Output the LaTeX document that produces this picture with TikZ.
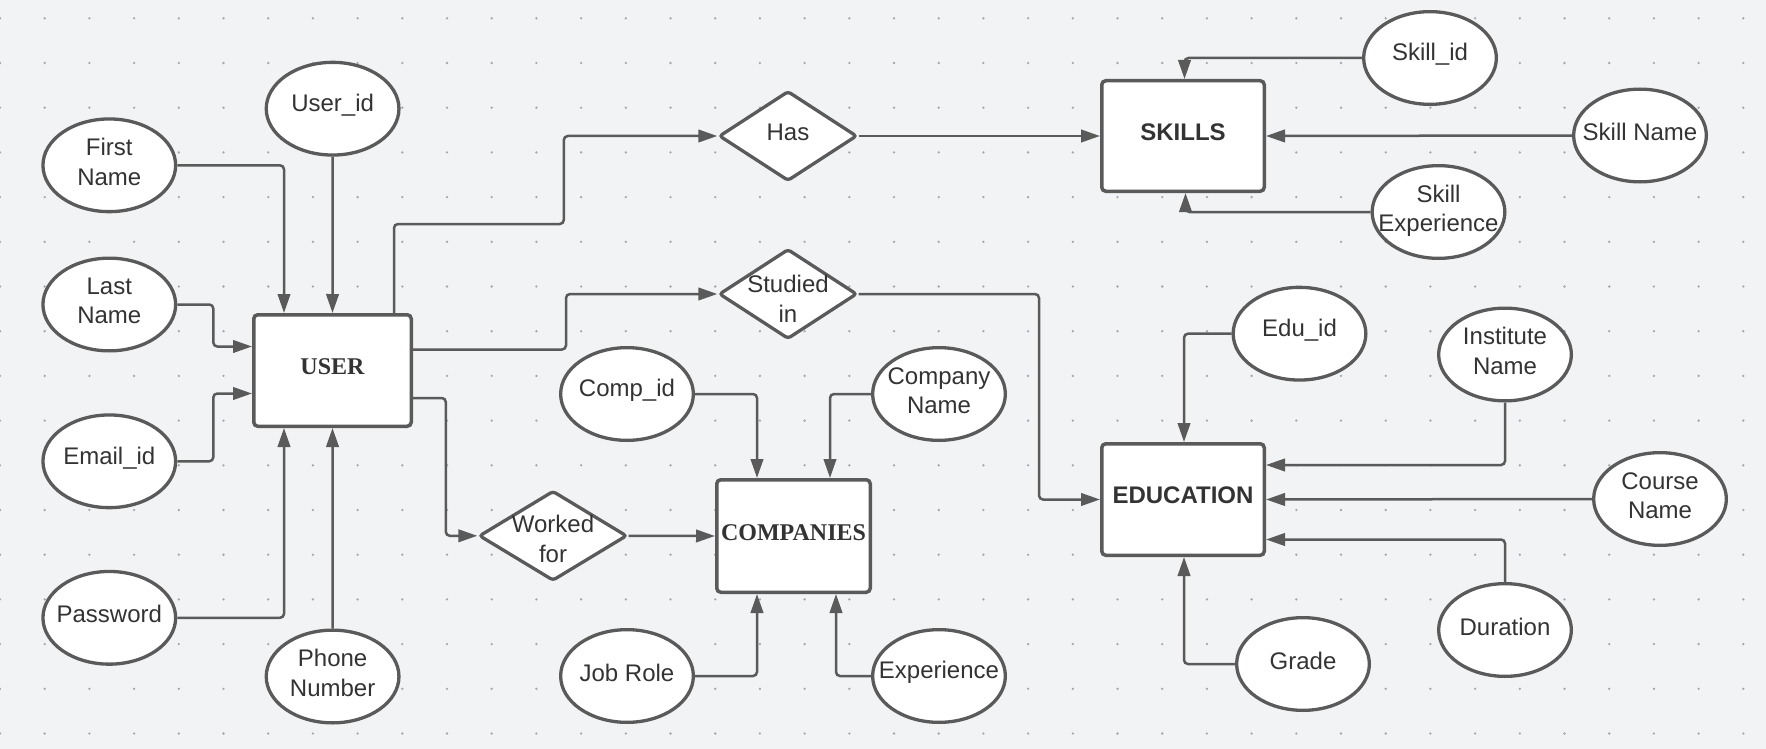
\documentclass[tikz,border=0pt]{standalone}
\usepackage{fontspec}
\setmainfont{Liberation Sans}
\newfontfamily\serfont{Liberation Serif}
\usetikzlibrary{shapes.geometric,arrows.meta}
\definecolor{bg}{HTML}{F2F3F5}
\definecolor{ln}{HTML}{5A5A5A}
\definecolor{tx}{HTML}{333333}
\definecolor{dotc}{HTML}{A4A8AE}
\newcommand\attrnode[4]{\node[attr] (#1) at (#2) {};\node[lbl] (#1-t) at ([yshift=#3]#1.center) {#4};}
\begin{document}
\begin{tikzpicture}[x=1pt,y=-1pt,
  attr/.style={ellipse, draw=ln, line width=3.3pt, fill=white, minimum width=132.7pt, minimum height=92.7pt, inner sep=0pt},
  ent/.style={rectangle, rounded corners=4pt, draw=ln, line width=3.5pt, fill=white, inner sep=0pt},
  rel/.style={diamond, rounded corners=3pt, draw=ln, line width=3.3pt, fill=white, inner sep=0pt, minimum height=90pt},
  lbl/.style={font=\fontsize{24}{29.5}\selectfont, text=tx, align=center, inner sep=0pt},
  elbl/.style={font=\serfont\bfseries\fontsize{24}{29}\selectfont, text=tx, inner sep=0pt},
  slbl/.style={font=\bfseries\fontsize{24}{29}\selectfont, text=tx, inner sep=0pt},
  conn/.style={draw=ln, line width=2.5pt, rounded corners=4pt, -{Triangle[length=19pt,width=12.5pt]}},
]
\useasboundingbox[fill=bg] (0,0) rectangle (1766,749);
\foreach \i in {0,...,39} \foreach \j in {0,...,16} \fill[dotc] (44.7*\i,18.3+44.7*\j) circle (1.3pt);

% entities
\node[ent, minimum width=157.5pt, minimum height=111.5pt] (user) at (332.5,370.5) {};
\node[elbl] (user-t) at ([yshift=4pt]user.center) {USER};
\node[ent, minimum width=162.5pt, minimum height=110.5pt] (sk) at (1183,136) {};
\node[slbl] (sk-t) at ([yshift=4pt]sk.center) {SKILLS};
\node[ent, minimum width=162.5pt, minimum height=111.5pt] (edu) at (1183,499.5) {};
\node[slbl] (edu-t) at ([yshift=4pt]edu.center) {EDUCATION};
\node[ent, minimum width=153.5pt, minimum height=112.5pt] (comp) at (793.5,536) {};
\node[elbl] (comp-t) at ([yshift=3pt]comp.center) {COMPANIES};

% relationships
\node[rel, minimum width=138pt] (has) at (788,136) {};
\node[lbl] (has-t) at ([yshift=4pt]has.center) {Has};
\node[rel, minimum width=138pt] (st) at (788,294) {};
\node[lbl] (st-t) at ([yshift=-5pt]st.center) {Studied\\in};
\node[rel, minimum width=148pt] (wf) at (553,535.8) {};
\node[lbl] (wf-t) at ([yshift=-3pt]wf.center) {Worked\\for};

% attributes
\attrnode{fn}{109.3,165.3}{3.5pt}{First\\Name}
\attrnode{lnm}{109.3,304.5}{3.5pt}{Last\\Name}
\attrnode{em}{109.3,461.3}{3.5pt}{Email\_id}
\attrnode{pw}{109.3,617.8}{3.5pt}{Password}
\attrnode{uid}{332.6,108.7}{3.5pt}{User\_id}
\attrnode{ph}{332.6,676.5}{3.5pt}{Phone\\Number}
\attrnode{cid}{627,394}{3.5pt}{Comp\_id}
\attrnode{cnm}{939,394}{3.5pt}{Company\\Name}
\attrnode{jr}{627,676}{3.5pt}{Job Role}
\attrnode{ex}{939,676}{3.5pt}{Experience}
\attrnode{sid}{1430,58}{3.5pt}{Skill\_id}
\attrnode{sn}{1640,135.5}{3.5pt}{Skill Name}
\attrnode{se}{1438.5,212}{1pt}{Skill\\Experience}
\attrnode{eid}{1299.5,333.7}{3.5pt}{Edu\_id}
\attrnode{inst}{1505,354.5}{3.5pt}{Institute\\Name}
\attrnode{crs}{1660,499}{3.5pt}{Course\\Name}
\attrnode{dur}{1505,630}{3.5pt}{Duration}
\attrnode{gr}{1303,664}{3.5pt}{Grade}

% connectors
\draw[conn] (fn.east) -| ([xshift=-48.5pt]user.north);
\draw[conn] (uid.south) -- (user.north);
\draw[conn] (lnm.east) -- ++(36,0) |- ([yshift=24pt]user.west);
\draw[conn] (em.east) -- ++(36,0) |- ([yshift=-23pt]user.west);
\draw[conn] (pw.east) -| ([xshift=-48.5pt]user.south);
\draw[conn] (ph.north) -- (user.south);
\draw[conn] ([xshift=61.5pt]user.north) |- (563.8,224) |- (has.west);
\draw[conn] ([yshift=21pt]user.east) -| (566,294) -- (st.west);
\draw[conn] (st.east) -| (1039,499.5) -- (edu.west);
\draw[conn] ([yshift=-27.5pt]user.east) -| (445.8,535.8) -- (wf.west);
\draw[conn] (wf.east) -- (comp.west);
\draw[conn] (cid.east) -| ([xshift=-36.5pt]comp.north);
\draw[conn] (cnm.west) -| ([xshift=36.5pt]comp.north);
\draw[conn] (jr.east) -| ([xshift=-36.5pt]comp.south);
\draw[conn] (ex.west) -| ([xshift=42.5pt]comp.south);
\draw[conn] (has.east) -- (sk.west);
\draw[conn] (sid.west) -| ([xshift=1.5pt]sk.north);
\draw[conn] (sn.west) -- (sk.east);
\draw[conn] (se.west) -| ([xshift=2.5pt]sk.south);
\draw[conn] (eid.west) -| ([xshift=1pt]edu.north);
\draw[conn] (inst.south) |- ([yshift=34.5pt]edu.east);
\draw[conn] (crs.west) -- (edu.east);
\draw[conn] (dur.north) |- ([yshift=-40pt]edu.east);
\draw[conn] (gr.west) -| ([xshift=1pt]edu.south);
\end{tikzpicture}
\end{document}
